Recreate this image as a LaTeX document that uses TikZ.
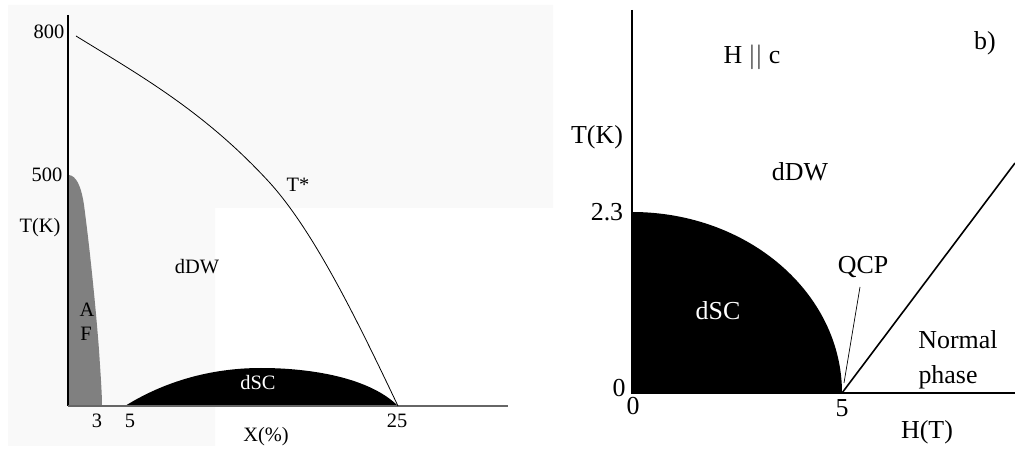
\documentclass[tikz,border=0pt]{standalone}
\usepackage{fontspec}
\setmainfont{Liberation Serif}
\definecolor{afgray}{rgb}{0.5,0.5,0.5}
\begin{document}
\begin{tikzpicture}[x=1bp,y=-1bp,
  lblL/.style={font=\fontsize{20.5}{24}\selectfont, inner sep=0pt},
  lblR/.style={font=\fontsize{26}{30}\selectfont, inner sep=0pt},
  axisL/.style={line width=1.3bp},
  axisR/.style={line width=2bp},
  texture/.style={fill=black!2.5}]
\useasboundingbox (0,0) rectangle (1015,453);
% ---------- panel a ----------
\fill[texture] (8,5) -- (553,5) -- (553,208) -- (215,208) -- (215,446) -- (8,446) -- cycle;
% AF region
\fill[afgray] (69,406) -- (69,175) .. controls (76,176) and (81,185) .. (84,205)
   .. controls (90,250) and (96,310) .. (99,350) .. controls (101,380) and (102,395) .. (102,406) -- cycle;
% dSC dome
\fill[black] (125,406) .. controls (170,378) and (218,368) .. (261,368)
   .. controls (312,368) and (370,378) .. (398,406) -- cycle;
% axes
\coordinate (Ay0) at (68,15);
\coordinate (Ao) at (68,406);
\coordinate (Ax1) at (508,406);
\draw[axisL] (Ay0) -- (Ao);
\draw[axisL, black!60] (Ao) -- (Ax1);
% T* line
\coordinate (Ts) at (76,36);
\coordinate (Tm) at (270,183);
\coordinate (Te) at (398,406);
\draw[line width=0.8bp] (Ts) .. controls (141,76) and (205,112) .. (Tm)
   .. controls (315,233) and (358,322) .. (Te);
% labels
\node[lblL] (t800) at (49,32) {800};
\node[lblL] (t500) at (47,175) {500};
\node[lblL] (tkL) at (40,228) {T(K)};
\node[lblL] (tstar) at (298,185) {T*};
\node[lblL] (ddwL) at (197,267) {dDW};
\node[lblL] (afA) at (87,310) {A};
\node[lblL] (afF) at (86,334) {F};
\node[lblL, white] (dscL) at (258,383) {dSC};
\node[lblL] (x3) at (97,421) {3};
\node[lblL] (x5) at (130,421) {5};
\node[lblL] (x25) at (397,421) {25};
\node[lblL] (xlab) at (266,437) {X(\%)};
% ---------- panel b ----------
\fill[black] (632,393) -- (632,212) .. controls (748,212) and (842,293) .. (842,393) -- cycle;
\coordinate (By0) at (632,10);
\coordinate (Bo) at (632,393);
\coordinate (Bx1) at (1015,393);
\coordinate (Bqcp) at (842,393);
\coordinate (Bend) at (1015,163);
\draw[axisR] (By0) -- (Bo) -- (Bx1);
\draw[line width=1.6bp] (Bqcp) -- (Bend);
\node[lblR] (tkR) at (597,137) {T(K)};
\node[lblR] (t23) at (607,212) {2.3};
\node[lblR] (t0y) at (619,388) {0};
\node[lblR] (t0x) at (633,406) {0};
\node[lblR] (t5) at (842,408) {5};
\node[lblR] (hT) at (927,432) {H(T)};
\node[lblR] (hc) at (752,57) {H $||$ c};
\node[lblR] (bb) at (985,43) {b)};
\node[lblR] (ddwR) at (800,172) {dDW};
\node[lblR, white] (dscR) at (718,311) {dSC};
\node[lblR] (qcp) at (863,267) {QCP};
\node[lblR] (norm) at (958,340) {Normal};
\node[lblR] (phase) at (948,377) {phase};
\coordinate (qlead) at (860,287);
\coordinate (qtip) at (844,383);
\draw[line width=0.7bp] (qlead) -- (qtip);
\end{tikzpicture}
\end{document}
